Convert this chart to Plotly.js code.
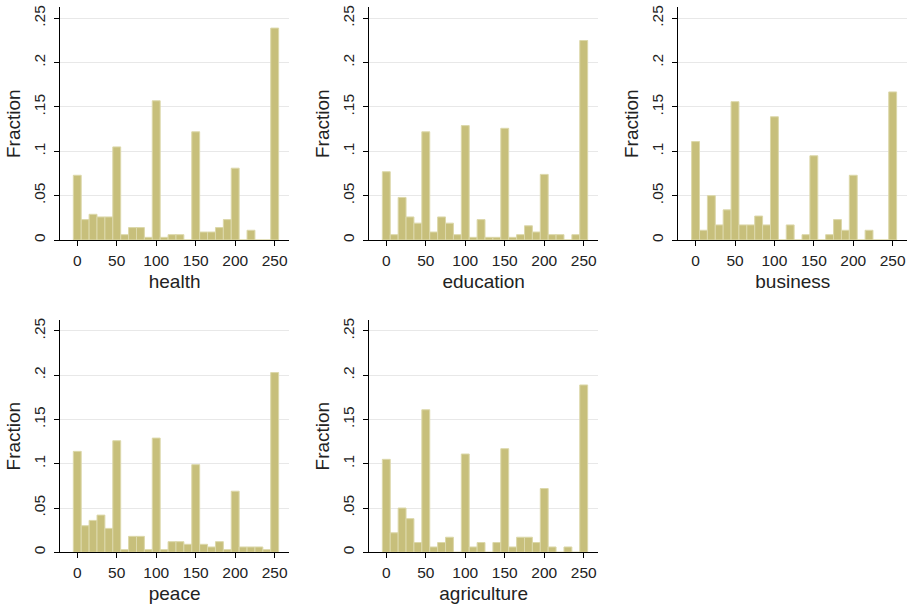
<!DOCTYPE html>
<html>
<head>
<meta charset="utf-8">
<script src="https://cdn.plot.ly/plotly-3.0.1.min.js"></script>
<style>html,body{margin:0;padding:0;background:#fff;}#chart{width:910px;height:611px;}</style>
</head>
<body>
<div id="chart"></div>
<script>
const binCenters = [0,10,20,30,40,50,60,70,80,90,100,110,120,130,140,150,160,170,180,190,200,210,220,230,240,250];
const health      = [0.073,0.023,0.029,0.026,0.026,0.105,0.006,0.014,0.014,0.003,0.157,0.003,0.006,0.006,0,0.122,0.009,0.009,0.014,0.023,0.081,0,0.011,0,0,0.239];
const education   = [0.077,0.006,0.048,0.026,0.019,0.122,0.009,0.026,0.019,0.006,0.129,0.003,0.023,0.003,0.003,0.126,0.003,0.006,0.016,0.009,0.074,0.006,0.006,0,0.006,0.225];
const business    = [0.111,0.011,0.050,0.017,0.034,0.156,0.017,0.017,0.027,0.017,0.139,0,0.017,0,0.006,0.095,0,0.006,0.023,0.011,0.073,0,0.011,0,0,0.167];
const peace       = [0.114,0.030,0.036,0.042,0.027,0.126,0.003,0.018,0.018,0.003,0.129,0.003,0.012,0.012,0.009,0.099,0.009,0.006,0.012,0.003,0.069,0.006,0.006,0.006,0.003,0.203];
const agriculture = [0.105,0.022,0.050,0.038,0.011,0.161,0.006,0.011,0.017,0,0.111,0.006,0.011,0,0.011,0.117,0.006,0.017,0.017,0.011,0.072,0.006,0,0.006,0,0.189];
const panelNames = ['health','education','business','peace','agriculture'];
const yTickVals = [0,0.05,0.1,0.15,0.2,0.25];
const yTickText = ['0','.05','.1','.15','.2','.25'];
const xTickVals = [0,50,100,150,200,250];

const series = [health, education, business, peace, agriculture];
const xDomains = [[0.0659,0.3179],[0.4055,0.6575],[0.7454,0.997]];
const yDomains = [[0.6072,0.988],[0.0961,0.4763]];
const font = 'Liberation Sans, Arial, Helvetica, sans-serif';
const txt = '#222222';

const data = [];
const layout = {
  width: 910, height: 611,
  margin: {l:0, r:0, t:0, b:0},
  paper_bgcolor: '#ffffff', plot_bgcolor: '#ffffff',
  showlegend: false,
  bargap: 0,
  font: {family: font, color: txt}
};

series.forEach((vals, i) => {
  const n = i + 1;
  const suffix = n === 1 ? '' : String(n);
  const col = i % 3, row = Math.floor(i / 3);
  data.push({
    type: 'bar', x: binCenters, y: vals, width: 10,
    xaxis: 'x' + suffix, yaxis: 'y' + suffix,
    marker: {color: '#c7bf7b', line: {color: '#dcd8aa', width: 1}},
    hoverinfo: 'x+y'
  });
  layout['xaxis' + suffix] = {
    domain: xDomains[col], anchor: 'y' + suffix,
    range: [-21.9, 268.5], showgrid: false, zeroline: false,
    showline: true, linecolor: '#000', linewidth: 1.2,
    ticks: 'outside', ticklen: 5, tickcolor: '#000', tickwidth: 1,
    ticklabelstandoff: 1,
    tickvals: xTickVals, ticktext: xTickVals.map(String),
    tickfont: {size: 15.5, family: font, color: txt},
    title: {text: panelNames[i], font: {size: 19, family: font, color: txt}, standoff: 6}
  };
  layout['yaxis' + suffix] = {
    domain: yDomains[row], anchor: 'x' + suffix,
    range: [0, 0.2624], showgrid: true, gridcolor: '#e8e8e8', gridwidth: 1,
    zeroline: false, showline: true, linecolor: '#000', linewidth: 1.2,
    ticks: 'outside', ticklen: 5, tickcolor: '#000', tickwidth: 1,
    ticklabelstandoff: 3,
    tickvals: yTickVals, ticktext: yTickText, tickangle: -90,
    tickfont: {size: 15.5, family: font, color: txt},
    title: {text: 'Fraction', font: {size: 19, family: font, color: txt}, standoff: 5}
  };
});

Plotly.newPlot('chart', data, layout, {displayModeBar: false, staticPlot: true});
</script>
</body>
</html>
